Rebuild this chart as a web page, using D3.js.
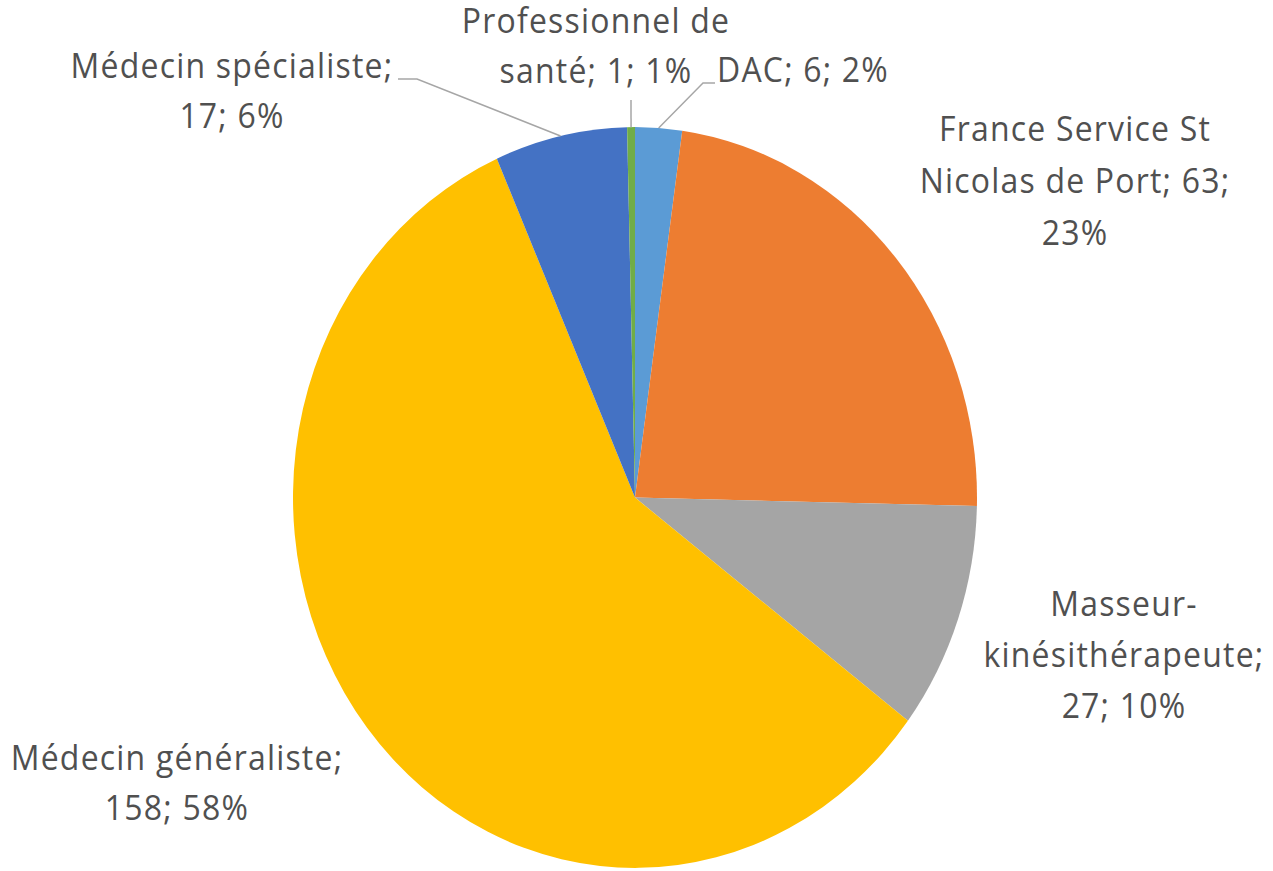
<!DOCTYPE html>
<html>
<head>
<meta charset="utf-8">
<script src="https://cdn.jsdelivr.net/npm/d3@7"></script>
<style>
  body { margin: 0; background: #fff; }
  text { font-family: "Open Sans", Lato, sans-serif; fill: #505050; letter-spacing: 1.2px; }
</style>
</head>
<body>
<div id="chart"></div>
<script>
// data
var categories = ["DAC", "France Service St Nicolas de Port", "Masseur-kinésithérapeute",
  "Médecin généraliste", "Médecin spécialiste", "Professionnel de santé"];
var values = [6, 63, 27, 158, 17, 1];
var percentLabels = ["2%", "23%", "10%", "58%", "6%", "1%"];
var colors = ["#5b9bd5", "#ed7d31", "#a5a5a5", "#ffc000", "#4472c4", "#70ad47"];

var svgWidth = 1273;
var svgHeight = 871;
// the original picture is stretched vertically
var sy = 1.083;
var cx = 635, cy = 497.5;
var radius = 342;
var fontSize = 32;

// label placement (final picture coords): centre x, first baseline, line gap, words per line, leader end points
var labelLayout = [
  { x: 803, y: 82, gap: 50, lines: [3], leader: [[703, 83], [715, 83]] },
  { x: 1075, y: 141, gap: 52, lines: [3, 4, 1] },
  { x: 1124, y: 616, gap: 51, lines: [1, 1, 2] },
  { x: 177, y: 770, gap: 50, lines: [2, 2] },
  { x: 232, y: 78, gap: 50, lines: [2, 2], leader: [[417, 79], [398, 79]] },
  { x: 596, y: 33, gap: 50, lines: [2, 3], leader: [[631, 100]] }
];

var svg = d3.select("#chart")
  .append("svg")
  .attr("width", svgWidth)
  .attr("height", svgHeight);

var root = svg.append("g")
  .attr("transform", `scale(1, ${sy})`);

var pie = d3.pie().sort(null).value(d => d);
var arcs = pie(values);

var arc = d3.arc().innerRadius(0).outerRadius(radius);

var pieGroup = root.append("g")
  .attr("transform", `translate(${cx}, ${cy / sy})`);

pieGroup.selectAll("path")
  .data(arcs)
  .enter()
  .append("path")
  .attr("d", arc)
  .attr("fill", (d, i) => colors[i]);

// leader lines
arcs.forEach(function(d, i) {
  var lay = labelLayout[i];
  if (!lay.leader) return;
  var mid = (d.startAngle + d.endAngle) / 2;
  var pts = [[cx + radius * Math.sin(mid), cy / sy - radius * Math.cos(mid)]];
  lay.leader.forEach(p => pts.push([p[0], p[1] / sy]));
  root.append("path")
    .attr("d", d3.line()(pts))
    .attr("fill", "none")
    .attr("stroke", "#a6a6a6")
    .attr("stroke-width", 1.5);
});

// labels
function splitLines(str, counts) {
  var tokens = str.match(/\S+?-(?=\S)|\S+/g);
  var out = [], k = 0;
  counts.forEach(function(n) {
    var s = "";
    for (var j = 0; j < n; j++) {
      var t = tokens[k++];
      if (s === "" || s.endsWith("-")) s += t; else s += " " + t;
    }
    out.push(s);
  });
  return out;
}

categories.forEach(function(c, i) {
  var lay = labelLayout[i];
  var full = `${c}; ${values[i]}; ${percentLabels[i]}`;
  var lines = splitLines(full, lay.lines);
  var t = root.append("text")
    .attr("text-anchor", "middle")
    .attr("font-size", fontSize);
  lines.forEach(function(l, j) {
    t.append("tspan")
      .attr("x", lay.x)
      .attr("y", (lay.y + j * lay.gap) / sy)
      .text(l);
  });
});
</script>
</body>
</html>
